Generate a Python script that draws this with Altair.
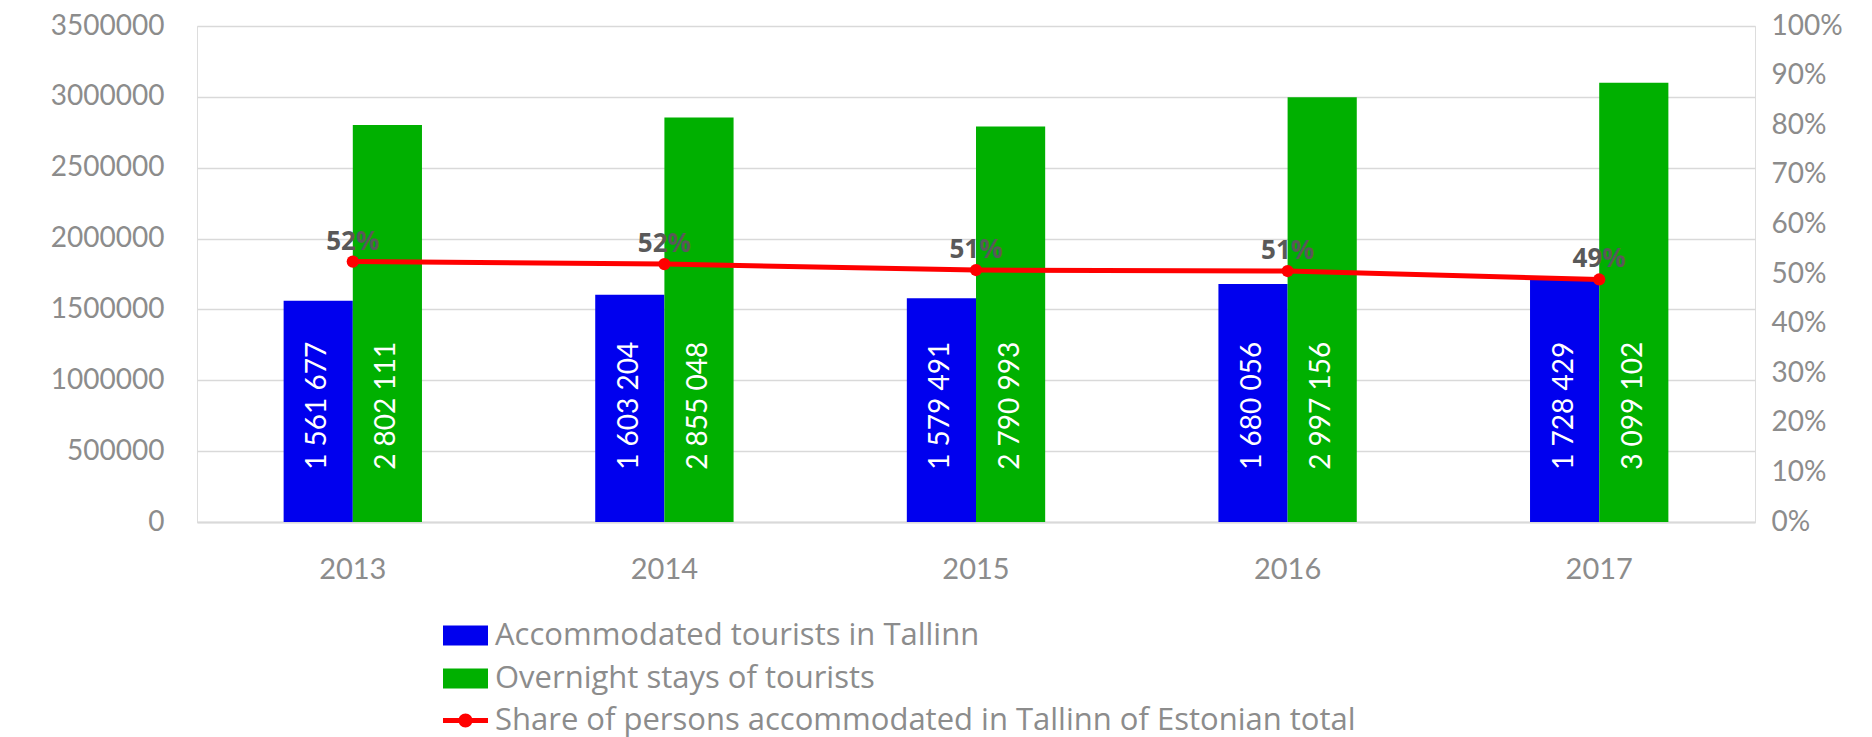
import altair as alt
import pandas as pd

years = ["2013", "2014", "2015", "2016", "2017"]
accommodated = [1561677, 1603204, 1579491, 1680056, 1728429]
overnight = [2802111, 2855048, 2790993, 2997156, 3099102]
accommodated_labels = ["1 561 677", "1 603 204", "1 579 491", "1 680 056", "1 728 429"]
overnight_labels = ["2 802 111", "2 855 048", "2 790 993", "2 997 156", "3 099 102"]
share = [0.525, 0.520, 0.508, 0.506, 0.489]
share_labels = ["52%", "52%", "51%", "51%", "49%"]

series_names = ["Accommodated tourists in Tallinn", "Overnight stays of tourists"]
line_name = "Share of persons accommodated in  Tallinn of Estonian total"
bar_colors = ["#0000ee", "#00b000"]
line_color = "#ff0000"

y_ticks = [0, 500000, 1000000, 1500000, 2000000, 2500000, 3000000, 3500000]
pct_ticks = [0, 0.1, 0.2, 0.3, 0.4, 0.5, 0.6, 0.7, 0.8, 0.9, 1.0]

rows = []
for i, yr in enumerate(years):
    rows.append({"year": yr, "series": series_names[0], "value": accommodated[i], "label": accommodated_labels[i]})
    rows.append({"year": yr, "series": series_names[1], "value": overnight[i], "label": overnight_labels[i]})
bars_df = pd.DataFrame(rows)
line_df = pd.DataFrame({"year": years, "share": share, "label": share_labels, "name": [line_name] * len(years)})

AXIS_FONT = "Lato"
LEGEND_FONT = "Open Sans"
LABEL_COLOR = "#8c8c8c"
GRID = "#d9d9d9"

x_enc = alt.X("year:N", sort=years, title=None,
              scale=alt.Scale(paddingInner=0.556, paddingOuter=0.278),
              axis=alt.Axis(labelAngle=0, ticks=False, labelPadding=33, labelFontSize=29,
                            labelFont=AXIS_FONT, labelColor=LABEL_COLOR,
                            domainColor=GRID, domainWidth=2, grid=False))

bars = alt.Chart(bars_df).mark_bar(strokeWidth=0).encode(
    x=x_enc,
    xOffset=alt.XOffset("series:N", sort=series_names, scale=alt.Scale(paddingInner=0, paddingOuter=0)),
    y=alt.Y("value:Q", title=None,
            scale=alt.Scale(domain=[0, 3500000], nice=False),
            axis=alt.Axis(orient="left", values=y_ticks, format="d", ticks=False, domain=False,
                          labelPadding=33, labelFontSize=28, labelFont=AXIS_FONT,
                          labelColor=LABEL_COLOR, gridColor=GRID, gridWidth=1.5)),
    color=alt.Color("series:N", sort=series_names, title=None,
                    scale=alt.Scale(domain=series_names, range=bar_colors),
                    legend=alt.Legend(orient="none", legendX=253, legendY=594, direction="vertical",
                                      symbolType="M-2.25,-1H2.25V1H-2.25Z", symbolSize=400,
                                      symbolStrokeWidth=0, labelFontSize=31, labelFont=LEGEND_FONT,
                                      labelColor=LABEL_COLOR, labelOffset=14, rowPadding=11,
                                      padding=0, labelLimit=1000)),
)

bar_text = alt.Chart(bars_df).mark_text(angle=270, color="white", fontSize=28, font=AXIS_FONT,
                                        align="center", baseline="middle").encode(
    x=alt.X("year:N", sort=years),
    xOffset=alt.XOffset("series:N", sort=series_names),
    y=alt.datum(820000),
    text="label:N",
)

left_layer = alt.layer(bars, bar_text)

line = alt.Chart(line_df).mark_line(
    strokeWidth=5,
    point=alt.OverlayMarkDef(filled=True, fill=line_color, size=150, strokeWidth=0),
).encode(
    x=alt.X("year:N", sort=years),
    y=alt.Y("share:Q", title=None,
            scale=alt.Scale(domain=[0, 1], nice=False),
            axis=alt.Axis(orient="right", values=pct_ticks, format=".0%", ticks=False, domain=False,
                          grid=False, labelPadding=16, labelFontSize=28, labelFont=AXIS_FONT,
                          labelColor=LABEL_COLOR)),
    stroke=alt.Stroke("name:N", title=None,
                      scale=alt.Scale(domain=[line_name], range=[line_color]),
                      legend=alt.Legend(orient="none", legendX=253, legendY=679,
                                        symbolType="M-2.25,-0.25H2.25V0.25H-2.25Z M-0.7,0A0.7,0.7,0,1,1,0.7,0A0.7,0.7,0,1,1,-0.7,0Z",
                                        symbolSize=400, symbolFillColor=line_color, symbolStrokeWidth=0,
                                        labelFontSize=31, labelFont=LEGEND_FONT, labelColor=LABEL_COLOR,
                                        labelOffset=14, padding=0, labelLimit=1000)),
)

line_text = alt.Chart(line_df).mark_text(fontSize=26, fontWeight="bold", font=LEGEND_FONT,
                                         color="#595959", dy=-20, align="center",
                                         baseline="middle").encode(
    x=alt.X("year:N", sort=years),
    y=alt.Y("share:Q"),
    text="label:N",
)

right_layer = alt.layer(line, line_text)

chart = alt.layer(left_layer, right_layer).resolve_scale(y="independent").properties(
    width=1558,
    height=496,
    padding={"left": 189, "top": 18, "right": 109, "bottom": 215},
    autosize=alt.AutoSizeParams(type="none"),
).configure_view(stroke=GRID, strokeWidth=1.5).configure(background="white")

chart.save("out.html", embed_options={"renderer": "svg", "actions": False})
